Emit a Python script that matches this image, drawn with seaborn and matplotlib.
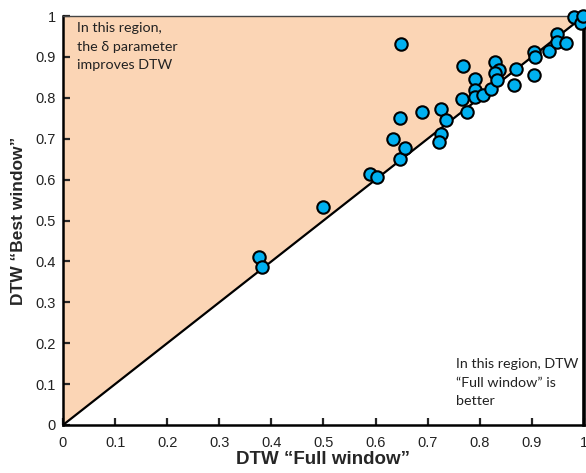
import matplotlib
matplotlib.use("Agg")
import matplotlib.pyplot as plt
import seaborn as sns
import pandas as pd

# DTW accuracy: full window vs. best window
full_window = [0.376, 0.382, 0.500, 0.589, 0.602, 0.647, 0.649, 0.633, 0.657, 0.647,
               0.689, 0.726, 0.735, 0.726, 0.722, 0.766, 0.768, 0.776, 0.790, 0.790,
               0.790, 0.806, 0.821, 0.829, 0.836, 0.829, 0.834, 0.866, 0.869, 0.904,
               0.904, 0.906, 0.933, 0.949, 0.949, 0.965, 0.980, 0.994, 0.998]
best_window = [0.411, 0.386, 0.532, 0.614, 0.607, 0.650, 0.932, 0.700, 0.677, 0.750,
               0.765, 0.773, 0.746, 0.712, 0.693, 0.796, 0.878, 0.765, 0.846, 0.819,
               0.801, 0.807, 0.821, 0.888, 0.868, 0.860, 0.843, 0.831, 0.870, 0.855,
               0.913, 0.899, 0.914, 0.956, 0.937, 0.935, 0.997, 0.984, 1.000]
diag = [0, 1]
ticks = [0, 0.1, 0.2, 0.3, 0.4, 0.5, 0.6, 0.7, 0.8, 0.9, 1]
tick_labels = ["0", "0.1", "0.2", "0.3", "0.4", "0.5", "0.6", "0.7", "0.8", "0.9", "1"]

df = pd.DataFrame({"full": full_window, "best": best_window})

sns.set_style("ticks")
plt.rcParams['font.family'] = ['Liberation Sans', 'DejaVu Sans']

fig = plt.figure(figsize=(5.86, 4.73), dpi=100)
ax = fig.add_axes([0.1075, 0.1015, 0.889, 0.8645])

# shaded region above the diagonal
ax.fill_between(diag, diag, [1, 1], color='#FBD5B5', linewidth=0, zorder=0)
ax.plot(diag, diag, color='black', linewidth=1.6, zorder=1)

sns.scatterplot(data=df, x="full", y="best", ax=ax, s=80, color='#00B0F0',
                edgecolor='black', linewidth=1.5, zorder=3, clip_on=False, legend=False)

ax.set_xlim(0, 1)
ax.set_ylim(0, 1)
ax.set_xticks(ticks)
ax.set_yticks(ticks)
ax.set_xticklabels(tick_labels)
ax.set_yticklabels(tick_labels)
ax.tick_params(direction='in', length=5, width=1.6, labelsize=10.5,
               labelcolor='#222222')
ax.tick_params(axis='x', pad=8)
ax.tick_params(axis='y', pad=5)

for side in ['left', 'bottom']:
    ax.spines[side].set_linewidth(1.8)
    ax.spines[side].set_color('black')
ax.spines['top'].set_linewidth(1.0)
ax.spines['top'].set_color('#444444')
ax.spines['right'].set_linewidth(2.6)
ax.spines['right'].set_color('black')

ax.set_xlabel("DTW \u201cFull window\u201d", fontsize=13.5, fontweight='bold', labelpad=1)
ax.set_ylabel("DTW \u201cBest window\u201d", fontsize=12.5, fontweight='bold', labelpad=7)

ax.text(0.027, 0.985, "In this region,\nthe \u03b4 parameter\nimproves DTW",
        transform=ax.transAxes, ha='left', va='top', fontsize=10.3,
        family=['Lato', 'DejaVu Sans'], linespacing=1.65, color='#222222')
ax.text(0.754, 0.163, "In this region, DTW\n\u201cFull window\u201d is\nbetter",
        transform=ax.transAxes, ha='left', va='top', fontsize=10.3,
        family=['Lato', 'DejaVu Sans'], linespacing=1.65, color='#222222')

fig.savefig("out.png", dpi=100)
